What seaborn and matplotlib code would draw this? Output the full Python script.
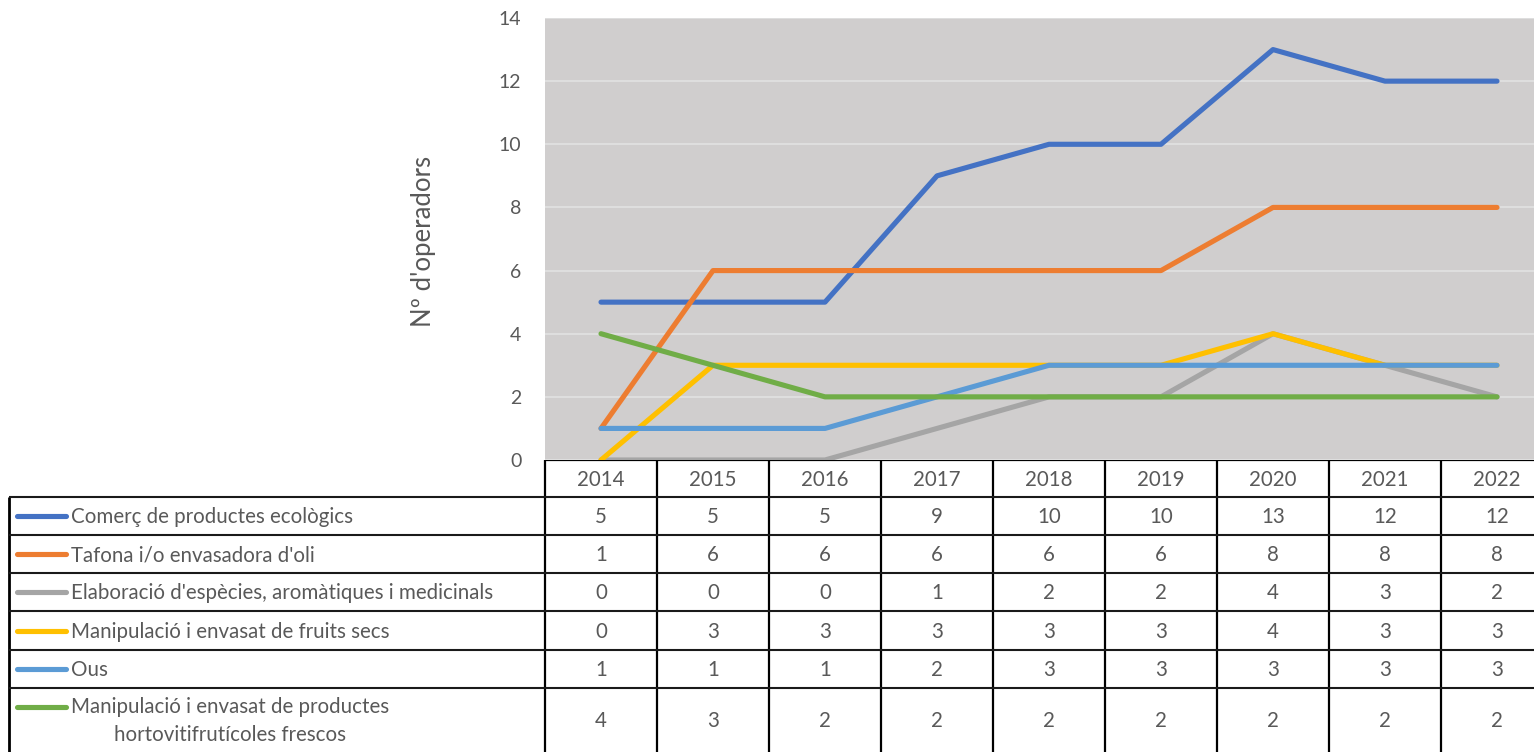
import matplotlib
matplotlib.use("Agg")
import matplotlib.pyplot as plt
import matplotlib.transforms as mtransforms
import seaborn as sns
import pandas as pd

# Data
years = ["2014", "2015", "2016", "2017", "2018", "2019", "2020", "2021", "2022"]
series_names = [
    "Comerç de productes ecològics",
    "Tafona i/o envasadora d'oli",
    "Elaboració d'espècies, aromàtiques i medicinals",
    "Manipulació i envasat de fruits secs",
    "Ous",
    "Manipulació i envasat de productes\nhortovitifrutícoles frescos",
]
comerc = [5, 5, 5, 9, 10, 10, 13, 12, 12]
tafona = [1, 6, 6, 6, 6, 6, 8, 8, 8]
especies = [0, 0, 0, 1, 2, 2, 4, 3, 2]
fruits_secs = [0, 3, 3, 3, 3, 3, 4, 3, 3]
ous = [1, 1, 1, 2, 3, 3, 3, 3, 3]
hortofruticoles = [4, 3, 2, 2, 2, 2, 2, 2, 2]
values = [comerc, tafona, especies, fruits_secs, ous, hortofruticoles]
colors = ["#4472C4", "#ED7D31", "#A5A5A5", "#FFC000", "#5B9BD5", "#70AD47"]
y_ticks = [0, 2, 4, 6, 8, 10, 12, 14]
y_label = "Nº d'operadors"

TEXT = "#595959"
FONT = ["Lato", "DejaVu Sans"]

sns.set_theme(style="white")
plt.rcParams["font.family"] = FONT

W, H = 1534, 752
fig = plt.figure(figsize=(W / 100, H / 100), dpi=100)
fig.patch.set_facecolor("white")

# Plot area geometry (pixels); the last column runs past the right edge
px_left, px_right, px_top, px_bottom = 545, 1553, 18, 460
ax = fig.add_axes([px_left / W, 1 - px_bottom / H,
                   (px_right - px_left) / W, (px_bottom - px_top) / H])
ax.set_facecolor("#D0CECE")

df = pd.DataFrame(
    [(i, v, name) for name, vals in zip(series_names, values) for i, v in enumerate(vals)],
    columns=["x", "value", "series"],
)
sns.lineplot(data=df, x="x", y="value", hue="series", hue_order=series_names,
             palette=colors, linewidth=3.7, sort=False, legend=False, ax=ax,
             solid_capstyle="round", solid_joinstyle="round")

ax.set_xlim(-0.5, len(years) - 0.5)
ax.set_ylim(0, 14)
ax.set_yticks(y_ticks)
ax.set_xticks([])
ax.set_xlabel("")
ax.set_ylabel("")
ax.grid(axis="y", color="#E0E0E0", linewidth=1.3)
ax.set_axisbelow(True)
for s in ax.spines.values():
    s.set_visible(False)
ax.tick_params(axis="y", length=0, pad=17, labelsize=14, labelcolor=TEXT)
ax.text((424 - px_left) / (px_right - px_left), 0.5 - 2 / (px_bottom - px_top),
        y_label, transform=ax.transAxes, rotation=90,
        ha="center", va="center", fontsize=18.5, color=TEXT)

# Data table below the plot, laid out in pixel units
axt = fig.add_axes([0, 0, 1, 1], zorder=-1)
axt.set_xlim(0, W)
axt.set_ylim(H, 0)
axt.set_axis_off()
axt.patch.set_visible(False)
blend = mtransforms.blended_transform_factory(ax.transData, axt.transData)

row_edges = [497, 535, 573, 611, 650, 688, 752]
header_top = 460
table_left = 9
border = "#000000"
FS = 14.8

# Header row with the years
axt.plot([px_left, W], [header_top, header_top], color=border, lw=1.6, solid_capstyle="butt")
for i, yr in enumerate(years):
    axt.text(i, (header_top + row_edges[0]) / 2 + 1, yr, transform=blend,
             ha="center", va="center", fontsize=FS, color=TEXT)

# Column separators
for i in range(len(years)):
    axt.plot([i - 0.5, i - 0.5], [header_top, H], transform=blend,
             color=border, lw=1.6, solid_capstyle="butt")
axt.plot([table_left, table_left], [row_edges[0], H], color=border, lw=2, solid_capstyle="butt")

# Row separators
for y in row_edges[:-1]:
    axt.plot([table_left, W], [y, y], color="#1a1a1a", lw=1.5, solid_capstyle="butt")

# Rows: legend key, series name and values
for r, (name, vals, col) in enumerate(zip(series_names, values, colors)):
    top, bot = row_edges[r], row_edges[r + 1]
    yc = (top + bot) / 2
    key_y = yc if "\n" not in name else top + 19
    axt.plot([17, 66], [key_y, key_y], color=col, lw=3.7, solid_capstyle="round")
    axt.text(71, yc + 1, name, ha="left", va="center", fontsize=FS,
             color=TEXT, multialignment="center", linespacing=1.55)
    for i, v in enumerate(vals):
        axt.text(i, yc + 1, str(v), transform=blend, ha="center", va="center",
                 fontsize=FS, color=TEXT)

fig.savefig("out.png", dpi=100, facecolor="white")
